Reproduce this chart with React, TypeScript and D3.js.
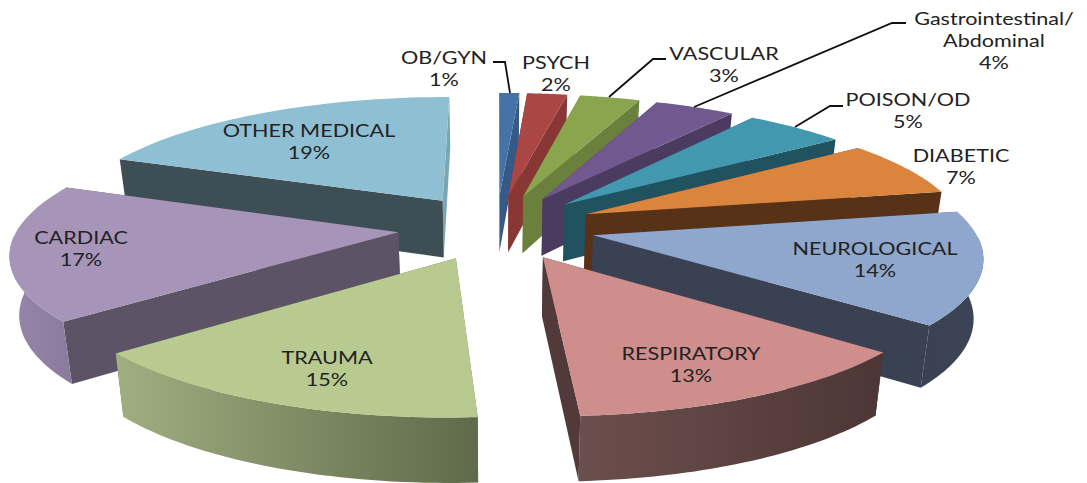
import React from "react";
import * as d3 from "d3";

const categories = ["OB/GYN", "PSYCH", "VASCULAR", "Gastrointestinal/Abdominal", "POISON/OD", "DIABETIC", "NEUROLOGICAL", "RESPIRATORY", "TRAUMA", "CARDIAC", "OTHER MEDICAL"];
const values = [1, 2, 3, 4, 5, 7, 14, 13, 15, 17, 19];

const topColors = ["#4572a7", "#aa4643", "#89a54e", "#71588f", "#4198af", "#db843d", "#8fa6cd", "#ce8e8c", "#b8ca90", "#a695b9", "#8fbfd2"];
const startWallColors = ["#355a85", "#883735", "#6b803d", "#4c3b60", "#205260", "#573217", "#3a4152", "#533a3a", "#6a7550", "#5d5366", "#3d4e54"];
const endWallColors = ["#355a85", "#883735", "#6b803d", "#4c3b60", "#205260", "#573217", "#3a4152", "#533a3a", "#6a7550", "#5d5366", "#7aa5b5"];
const rimFrom = ["#355a85", "#883735", "#6b803d", "#4c3b60", "#205260", "#573217", "#3a4152", "#6b4f4c", "#a0ae80", "#9687ab", "#7aa5b5"];
const rimTo = ["#355a85", "#883735", "#6b803d", "#4c3b60", "#205260", "#573217", "#3c4457", "#4d3636", "#5f6a4a", "#8a7b9c", "#7aa5b5"];

// label text lines, [center x, first line y]
const labelLines = [["OB/GYN", "1%"], ["PSYCH", "2%"], ["VASCULAR", "3%"], ["Gastrointestinal/", "Abdominal", "4%"], ["POISON/OD", "5%"], ["DIABETIC", "7%"], ["NEUROLOGICAL", "14%"], ["RESPIRATORY", "13%"], ["TRAUMA", "15%"], ["CARDIAC", "17%"], ["OTHER MEDICAL", "19%"]];
const labelX = [444, 556, 724, 994, 908, 961, 875, 691, 327, 81, 309];
const labelY = [57, 62, 53, 18, 99, 155, 248, 353, 357, 237, 130];
const lineGap = 22;
const leaders = [
  [[493, 62], [505, 62], [510, 93]],
  [[666, 59], [653, 59], [609, 97]],
  [[906, 23], [892, 23], [694, 107]],
  [[843, 106], [830, 106], [795, 127]],
];

const width = 1087;
const height = 483;

// pie plane seen in perspective, fitted to the picture
const cx = 496.5;
const cy = 227;
const rx = 380;
const ry = 126;
const persp = 0.146;
const explode = 0.26;

function project(px: number, py: number, z: number): [number, number] {
  const s = 1 / (1 + persp * py);
  return [cx + rx * px * s * (1 - 0.02 * z), cy - ry * py * s + z * (58 - 6 * py)];
}

const line = d3.line();

export default function App() {
  const arcs = d3.pie<number>().sort(null)(values);

  const slices = arcs.map((a, i) => {
    const mid = (a.startAngle + a.endAngle) / 2;
    const ox = explode * Math.sin(mid);
    const oy = explode * Math.cos(mid);
    const steps = d3.range(41).map((k) => a.startAngle + ((a.endAngle - a.startAngle) * k) / 40);
    const rim = (ts: number[], z: number) => ts.map((t) => project(ox + Math.sin(t), oy + Math.cos(t), z));
    const apex = (z: number) => project(ox, oy, z);
    const wall = (t: number) => {
      const p = [ox + Math.sin(t), oy + Math.cos(t)];
      return [apex(0), project(p[0], p[1], 0), project(p[0], p[1], 1), apex(1)] as [number, number][];
    };
    // only the front half of the rim faces the viewer
    const front = steps.filter((t) => Math.cos(t) < 0);
    return {
      i,
      oy,
      top: line([apex(0), ...rim(steps, 0)]) + "Z",
      outer: front.length ? line([...rim(front, 0), ...rim(front, 1).reverse()]) + "Z" : null,
      startWall: line(wall(a.startAngle)) + "Z",
      endWall: line(wall(a.endAngle)) + "Z",
    };
  });

  // back to front
  const order = slices.slice().sort((a, b) => d3.descending(a.oy, b.oy));

  return (
    <svg
      width={width}
      height={height}
      style={{ position: "fixed", left: 0, top: 0, display: "block", background: "#fff" }}
    >
      <defs>
        {categories.map((c, i) => (
          <linearGradient key={c} id={`rim${i}`} x1="0" x2="1" y1="0" y2="0">
            <stop offset="0" stopColor={rimFrom[i]} />
            <stop offset="1" stopColor={rimTo[i]} />
          </linearGradient>
        ))}
      </defs>
      {order.map((s) => (
        <g key={s.i}>
          <path d={s.endWall} fill={endWallColors[s.i]} />
          <path d={s.startWall} fill={startWallColors[s.i]} />
          {s.outer && <path d={s.outer} fill={`url(#rim${s.i})`} />}
          <path d={s.top} fill={topColors[s.i]} />
        </g>
      ))}
      {leaders.map((pts, i) => (
        <path key={i} d={line(pts as [number, number][]) as string} fill="none" stroke="#111" strokeWidth={1.8} />
      ))}
      {labelLines.map((lines, i) =>
        lines.map((t, j) => (
          <text
            key={t}
            transform={`translate(${labelX[i]},${labelY[i] + j * lineGap}) scale(1.2,1)`}
            textAnchor="middle"
            dominantBaseline="central"
            fontFamily="Lato"
            fontSize={18}
            fill="#222"
          >
            {t}
          </text>
        ))
      )}
    </svg>
  );
}
